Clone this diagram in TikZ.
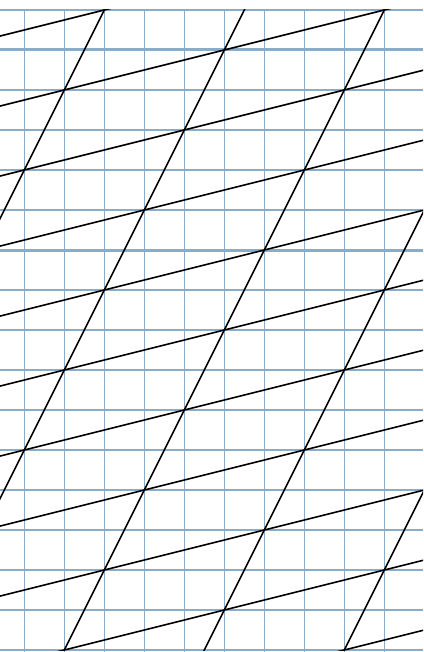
\documentclass[tikz,border=0pt]{standalone}
\definecolor{gridblue}{RGB}{135,172,204}
\begin{document}
\begin{tikzpicture}[x=1pt,y=-1pt,
  gridline/.style={draw=gridblue, line width=1.3pt},
  gridthick/.style={draw=gridblue, line width=3pt},
  lattice/.style={draw=black, line width=1.6pt}]
\useasboundingbox (0,0) rectangle (423,652);
\fill[white] (0,0) rectangle (423,652);
% grid paper
\foreach \i in {0,...,9}
  \draw[gridline] ({24.3+40*\i},10) -- ({24.3+40*\i},652);
\foreach \j in {0,...,16}
  \draw[gridline] (0,{10+40*\j}) -- (423,{10+40*\j});
\foreach \j in {1,6}
  \draw[gridthick] (0,{10+40*\j}) -- (423,{10+40*\j});
% lattice of parallelograms
\begin{scope}
  \clip (0,10) rectangle (423,650);
  \foreach \n in {0,...,4} {
    \pgfmathsetmacro\cc{2+3.5*\n}
    \coordinate (s\n a) at ({24.3+40*(\cc+0.5)},-30);
    \coordinate (s\n b) at ({24.3+40*(\cc-8.5)},690);
    \draw[lattice] (s\n a) -- (s\n b);
  }
  \foreach \m in {0,...,10} {
    \pgfmathsetmacro\dd{2+7*\m}
    \coordinate (h\m a) at ({24.3+40*(-2)},{10+40*(\dd+2)/4});
    \coordinate (h\m b) at ({24.3+40*12},{10+40*(\dd-12)/4});
    \draw[lattice] (h\m a) -- (h\m b);
  }
\end{scope}
\end{tikzpicture}
\end{document}
